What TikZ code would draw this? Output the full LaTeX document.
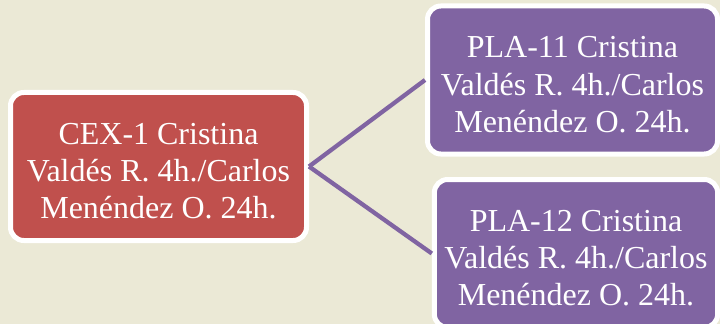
\documentclass[tikz,border=0pt]{standalone}
\usepackage{fontspec}
\setmainfont{Liberation Serif}
\definecolor{bgbeige}{RGB}{235,233,214}
\definecolor{boxred}{RGB}{192,80,77}
\definecolor{boxpurple}{RGB}{128,100,162}
\newcommand{\topstrut}{\rule{0pt}{23pt}}
\tikzset{
  box/.style={draw=white, line width=3.75pt, rounded corners=10pt, text=white,
    align=center, inner sep=0pt, font=\fontsize{24}{28}\selectfont},
  redbox/.style={box, fill=boxred},
  purplebox/.style={box, fill=boxpurple},
  link/.style={draw=boxpurple, line width=3.2pt}
}
\begin{document}
\begin{tikzpicture}[x=0.75pt,y=-0.75pt]
\fill[bgbeige] (0,0) rectangle (720,324);
\useasboundingbox (0,0) rectangle (720,324);
\clip (0,0) rectangle (720,324);
\node[redbox, minimum width=222pt, minimum height=111pt] (cex) at (158.5,166.5)
  {\topstrut CEX-1 Cristina\\Valdés R. 4h./Carlos\\Menéndez O. 24h.};
\node[purplebox, minimum width=217.5pt, minimum height=111pt] (pla11) at (572.5,80)
  {\topstrut PLA-11 Cristina\\Valdés R. 4h./Carlos\\Menéndez O. 24h.};
\node[purplebox, minimum width=212.5pt, minimum height=111pt] (pla12) at (576,253.5)
  {\topstrut PLA-12 Cristina\\Valdés R. 4h./Carlos\\Menéndez O. 24h.};
\draw[link] (cex.east) -- (pla11.west);
\draw[link] (cex.east) -- (pla12.west);
\end{tikzpicture}
\end{document}
